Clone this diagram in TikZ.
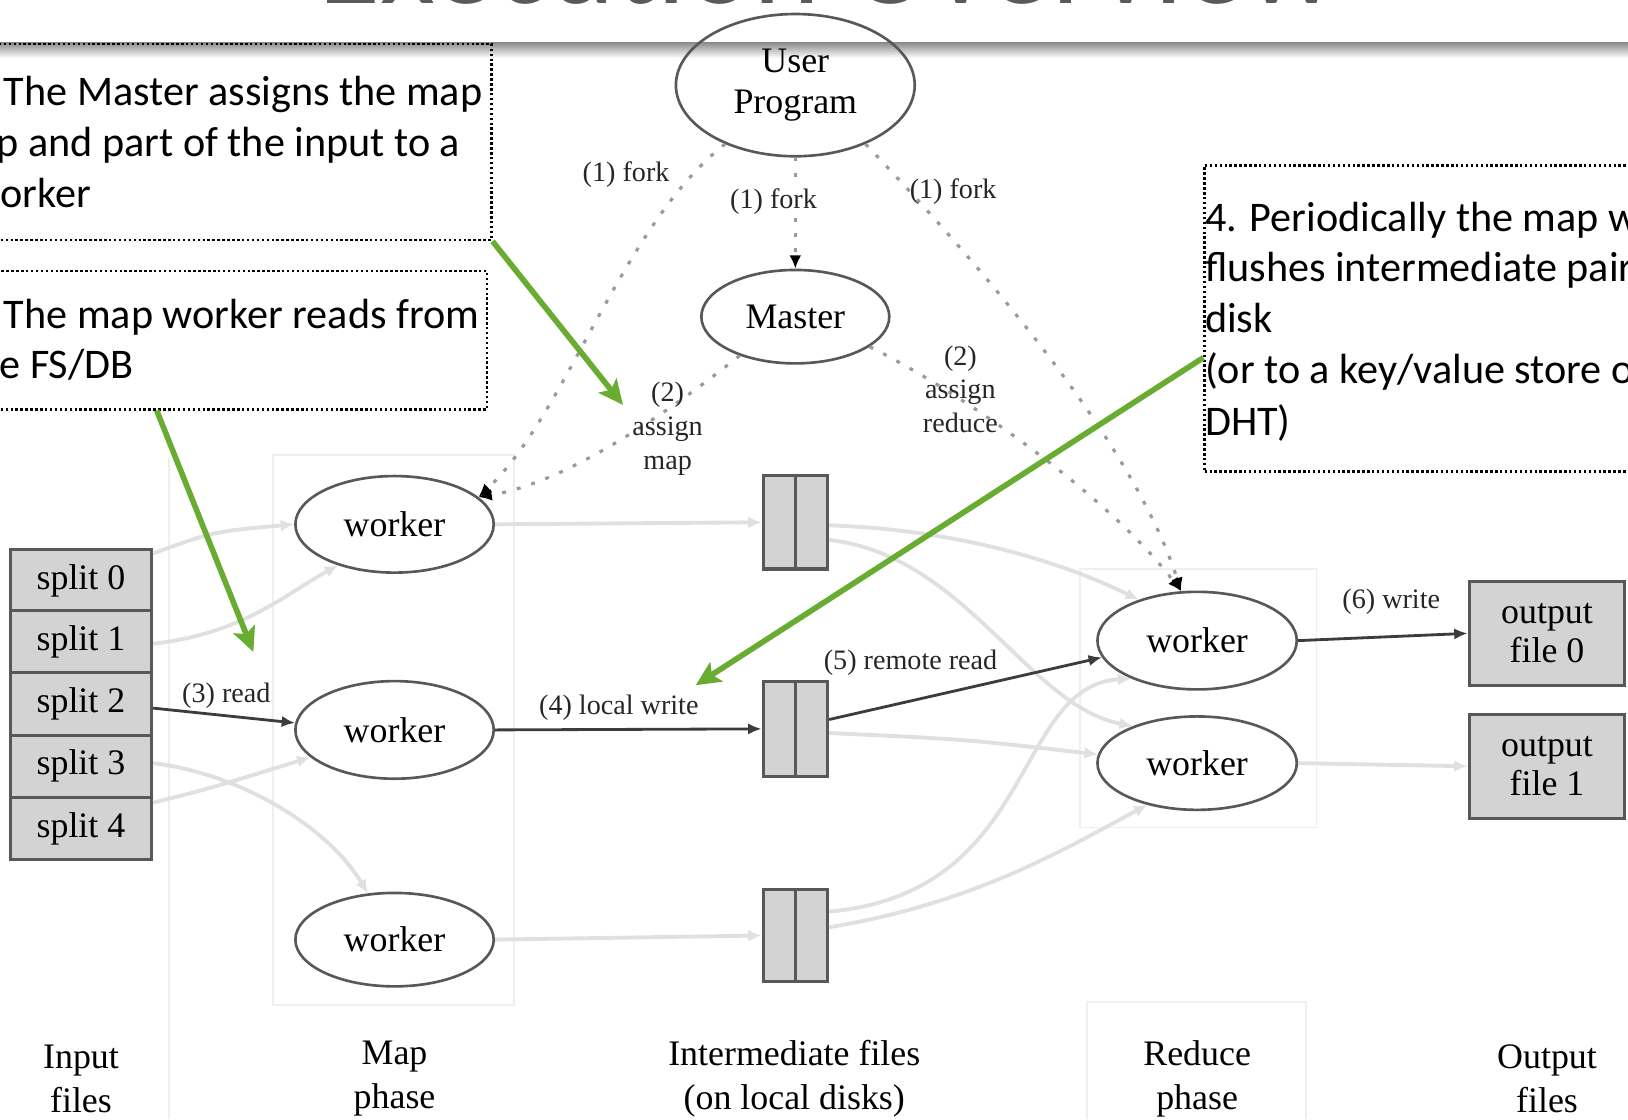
\documentclass[tikz,border=0pt]{standalone}
\usepackage{fontspec}
\setmainfont{Liberation Serif}
\newfontfamily\calfont{Carlito}
\usetikzlibrary{shapes.geometric,arrows.meta,calc}
\newcommand\dpx{0.010383cm}
\definecolor{edgedark}{HTML}{3C3C3C}
\definecolor{edgelight}{HTML}{E0E0E0}
\definecolor{outline}{HTML}{585858}
\definecolor{boxfill}{HTML}{D3D3D3}
\definecolor{notegreen}{RGB}{104,172,50}
\definecolor{titlegray}{HTML}{5A5A5A}
\definecolor{phaseline}{HTML}{EFEFEF}
\definecolor{dotgray}{HTML}{9A9A9A}
\tikzset{
  proc/.style={ellipse, draw=outline, line width=0.75pt, inner sep=0pt, align=center,
    font=\fontsize{10.2}{11.5}\selectfont},
  stack/.style={rectangle, draw=outline, fill=boxfill, line width=0.9pt, inner sep=0pt,
    align=center, font=\fontsize{10.2}{11}\selectfont},
  split/.style={stack, minimum width=136*\dpx, minimum height=60*\dpx},
  interm/.style={stack, minimum width=62*\dpx, minimum height=90*\dpx},
  outfile/.style={stack, minimum width=150*\dpx, minimum height=100*\dpx},
  darkedge/.style={draw=edgedark, line width=0.8pt, -{Latex[length=3.8pt,width=3.2pt]}},
  lightedge/.style={draw=edgelight, line width=1.1pt, -{Latex[length=3.8pt,width=3.4pt]}},
  dotedge/.style={draw=dotgray, line width=0.9pt, dash pattern=on 1.1pt off 3.2pt,
    -{Latex[length=3.8pt,width=3.4pt,color=black]}},
  elabel/.style={font=\fontsize{8}{9.6}\selectfont, text=black!85, align=center, inner sep=1pt},
  phase/.style={font=\fontsize{10.2}{12.4}\selectfont, align=center},
  callout/.style={draw=black, line width=0.7pt, dash pattern=on 0.7pt off 0.7pt, inner sep=0pt},
  calltext/.style={font=\calfont\fontsize{12}{14.6}\selectfont, anchor=base west, inner sep=0pt},
  greenarrow/.style={draw=notegreen, line width=1.6pt, -{Stealth[length=7pt,width=6.5pt,inset=1.5pt]}},
  faint/.style={draw=phaseline, line width=0.5pt},
}
\begin{document}
\begin{tikzpicture}[x=\dpx, y=-\dpx]
\useasboundingbox (0,0) rectangle (1568,1078);

% faint phase frames
\draw[faint] (263,438) rectangle (495,968);
\draw[faint] (1040,548) rectangle (1268,797);
\draw[faint] (163,440) -- (163,1078);
\draw[faint] (1047,1078) -- (1047,965) -- (1258,965) -- (1258,1078);

% slide title and header rule
\node[anchor=base west, inner sep=0pt, font=\calfont\fontsize{36.1}{40}\selectfont,
      text=titlegray] (title) at (306,3.5) {Execution Overview};
\shade[top color=black!45, bottom color=white] (0,41) rectangle (1568,56);

% processes
\node[proc, minimum width=230*\dpx, minimum height=137*\dpx] (up) at (766,82) {User\\Program};
\node[proc, minimum width=181*\dpx, minimum height=90*\dpx] (master) at (766,305) {Master};
\node[proc, minimum width=191*\dpx, minimum height=93*\dpx] (mw1) at (380,505) {worker};
\node[proc, minimum width=191*\dpx, minimum height=94*\dpx] (mw2) at (380,703) {worker};
\node[proc, minimum width=191*\dpx, minimum height=90*\dpx] (mw3) at (380,905) {worker};
\node[proc, minimum width=192*\dpx, minimum height=94*\dpx] (rw1) at (1153,617) {worker};
\node[proc, minimum width=192*\dpx, minimum height=90*\dpx] (rw2) at (1153,735) {worker};

% input splits
\foreach \i/\y in {0/559,1/618,2/678,3/738,4/798}
  \node[split] (split\i) at (78,\y) {split \i};

% intermediate files
\node[interm] (if1) at (766,503) {};
\node[interm, minimum height=92*\dpx] (if2) at (766,702) {};
\node[interm, minimum height=89*\dpx] (if3) at (766,901) {};
\foreach \f in {if1,if2,if3}
  \draw[outline, line width=0.9pt] (\f.north) -- (\f.south);

% output files
\node[outfile] (out0) at (1490,610) {output\\file 0};
\node[outfile] (out1) at (1490,738) {output\\file 1};

% input reads
\draw[lightedge] ($(split0.east)+(0,-26)$) .. controls (205,512) .. (mw1.west);
\draw[lightedge] ($(split1.east)+(0,2)$) .. controls (235,610) and (275,572) .. (mw1.-144);
\draw[darkedge] ($(split2.east)+(0,4)$) -- (mw2.176);
\draw[lightedge] ($(split3.east)+(0,-3)$) .. controls (230,745) and (315,795) .. (mw3.120);
\draw[lightedge] ($(split4.east)+(0,-25)$) .. controls (200,760) .. (mw2.-162);

% local writes
\draw[lightedge] (mw1.east) -- (if1.west);
\draw[darkedge] (mw2.east) -- (if2.west);
\draw[lightedge] (mw3.east) -- (if3.west);

% remote reads
\draw[lightedge] ($(if1.east)+(0,3)$) .. controls (920,510) and (1020,540) .. (rw1.145);
\draw[lightedge] ($(if1.east)+(0,17)$) .. controls (930,535) and (990,680) .. (rw2.150);
\draw[darkedge] ($(if2.east)+(0,-9)$) -- (rw1.190);
\draw[lightedge] ($(if2.east)+(0,4)$) .. controls (930,712) .. (rw2.175);
\draw[lightedge] ($(if3.east)+(0,-23)$) .. controls (1000,860) and (975,660) .. (rw1.210);
\draw[lightedge] ($(if3.east)+(0,-8)$) .. controls (940,870) and (1030,815) .. (rw2.-140);

% final writes
\draw[darkedge] (rw1.east) -- (out0.west);
\draw[lightedge] (rw2.east) -- (out1.west);

% fork and assignment
\draw[dotedge] (up) -- (master);
\draw[dotedge] (up.-140) .. controls (600,215) and (545,400) .. (mw1.18);
\draw[dotedge] (master.-145) .. controls (640,400) and (545,465) .. (mw1.18);
\draw[dotedge] (up.-40) .. controls (930,240) and (1090,420) .. (rw1.108);
\draw[dotedge] (master.-22) .. controls (930,380) and (1070,480) .. (rw1.108);

% edge labels
\node[elabel] (lfork1) at (603,168) {(1) fork};
\node[elabel, fill=white] (lfork2) at (745,194) {(1) fork};
\node[elabel] (lfork3) at (918,185) {(1) fork};
\node[elabel] (lmap) at (643,413) {(2)\\assign\\map};
\node[elabel] (lred) at (925,375) {(2)\\assign\\reduce};
\node[elabel] (lread) at (218,670) {(3) read};
\node[elabel] (lwrite) at (596,682) {(4) local write};
\node[elabel] (lremote) at (877,638) {(5) remote read};
\node[elabel] (lout) at (1340,580) {(6) write};

% phase captions
\node[phase] (pin) at (78,1039) {Input\\files};
\node[phase] (pmap) at (380,1039) {Map\\phase};
\node[phase] (pint) at (765,1039) {Intermediate files\\(on local disks)};
\node[phase] (pred) at (1153,1039) {Reduce\\phase};
\node[phase] (pout) at (1490,1039) {Output\\files};

% callout notes
\node[callout, anchor=north west, minimum width=482*\dpx, minimum height=189*\dpx] (note1) at (-10,41) {};
\node[callout, anchor=north west, minimum width=478*\dpx, minimum height=133*\dpx] (note2) at (-10,260) {};
\node[callout, anchor=north west, minimum width=430*\dpx, minimum height=295*\dpx] (note3) at (1159,158) {};

\node[calltext] (n1a) at (3,102) {The Master assigns the map};
\node[calltext] (n1b) at (-4,151) {p and part of the input to a};
\node[calltext] (n1c) at (-29,200) {worker};
\node[calltext] (n2a) at (3,316) {The map worker reads from};
\node[calltext] (n2b) at (-36,365) {the FS/DB};
\node[calltext] (n3a) at (1160,223) {4. Periodically the map worker};
\node[calltext] (n3b) at (1160,271) {flushes intermediate pairs to};
\node[calltext] (n3c) at (1160,320) {disk};
\node[calltext] (n3d) at (1160,369) {(or to a key/value store or};
\node[calltext] (n3e) at (1160,419) {DHT)};

% pointers from the notes
\coordinate (tip1) at (600,390);
\coordinate (tip2) at (244,628);
\coordinate (tip3) at (670,660);
\draw[greenarrow] (note1.south east) -- (tip1);
\draw[greenarrow] ($(note2.south west)!0.335!(note2.south east)$) -- (tip2);
\draw[greenarrow] ($(note3.north west)!0.627!(note3.south west)$) -- (tip3);
\end{tikzpicture}
\end{document}
